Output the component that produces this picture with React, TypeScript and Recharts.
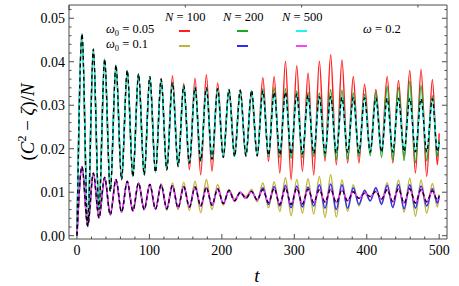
import { LineChart, Line, XAxis, YAxis } from 'recharts'

// C^2 - zeta over N, omega = 0.2. Values read at each peak and trough of the oscillation.

const RED = '#ff1f1f'
const GREEN = '#1fa81f'
const CYAN = '#1ff2f2'
const OLIVE = '#bfb53a'
const BLUE = '#2b2bff'
const MAGENTA = '#ff40ff'
const FRAME = '#4d4d4d'
const SERIF = 'Liberation Serif, Times New Roman, serif'

// times of the peaks / troughs
const T = [
  0,
  7, 14.8, 22.6, 30.4, 38.2, 46, 53.8, 61.6, 69.4, 77.2,
  85, 92.8, 100.6, 108.4, 116.2, 124, 131.8, 139.6, 147.4, 155.2,
  163, 170.8, 178.6, 186.4, 194.2, 202, 209.8, 217.6, 225.4, 233.2,
  241, 248.8, 256.6, 264.4, 272.2, 280, 287.8, 295.6, 303.4, 311.2,
  319, 326.8, 334.6, 342.4, 350.2, 358, 365.8, 373.6, 381.4, 389.2,
  397, 404.8, 412.6, 420.4, 428.2, 436, 443.8, 451.6, 459.4, 467.2,
  475, 482.8, 490.6, 497.5,
  500,
]

// omega0 = 0.05
const up100 = [
  0,
  0.0464, 0.0025, 0.0429, 0.006, 0.0406, 0.0102, 0.0392, 0.0129, 0.038, 0.0136,
  0.0372, 0.014, 0.0366, 0.0146, 0.0362, 0.015, 0.0368, 0.0158, 0.035, 0.0152,
  0.0362, 0.014, 0.037, 0.0148, 0.0351, 0.018, 0.0337, 0.0194, 0.0336, 0.0182,
  0.0324, 0.0182, 0.0364, 0.0171, 0.0366, 0.0144, 0.0401, 0.0129, 0.0391, 0.0148,
  0.0374, 0.014, 0.0401, 0.0171, 0.0416, 0.0163, 0.0404, 0.0167, 0.0366, 0.0167,
  0.0348, 0.019, 0.0336, 0.0194, 0.0366, 0.0167, 0.0357, 0.0182, 0.038, 0.0144,
  0.0382, 0.0136, 0.0359, 0.0163,
  0.0235,
]
const up200 = [
  0,
  0.0464, 0.0025, 0.0429, 0.006, 0.0406, 0.0102, 0.0392, 0.0129, 0.038, 0.0136,
  0.0372, 0.014, 0.0366, 0.0146, 0.036, 0.0152, 0.0352, 0.016, 0.0345, 0.0167,
  0.0341, 0.0172, 0.034, 0.0176, 0.0338, 0.018, 0.0336, 0.0182, 0.0334, 0.0184,
  0.0334, 0.0184, 0.0338, 0.0182, 0.034, 0.018, 0.0338, 0.0178, 0.0333, 0.018,
  0.033, 0.0182, 0.0328, 0.018, 0.0336, 0.0175, 0.0335, 0.0176, 0.0328, 0.0182,
  0.0325, 0.0184, 0.033, 0.018, 0.0343, 0.0174, 0.034, 0.0173, 0.0355, 0.0168,
  0.0345, 0.0172, 0.0322, 0.0182,
  0.022,
]
const up500 = [
  0,
  0.0464, 0.0025, 0.0429, 0.006, 0.0406, 0.0102, 0.0392, 0.0129, 0.038, 0.0136,
  0.0372, 0.014, 0.0366, 0.0146, 0.036, 0.0152, 0.0352, 0.016, 0.0345, 0.0167,
  0.0341, 0.0172, 0.034, 0.0176, 0.0338, 0.018, 0.0336, 0.0182, 0.0334, 0.0184,
  0.0334, 0.0184, 0.0333, 0.0185, 0.033, 0.0186, 0.033, 0.0187, 0.0326, 0.0188,
  0.0323, 0.0189, 0.032, 0.019, 0.032, 0.019, 0.0318, 0.0191, 0.0318, 0.0191,
  0.0317, 0.0192, 0.0317, 0.0192, 0.0316, 0.0192, 0.0316, 0.0193, 0.0316, 0.0193,
  0.0315, 0.0193, 0.0315, 0.0193,
  0.0215,
]
// black dashed reference lies on top of N = 500
const upRef = up500

// omega0 = 0.1
const low100 = [
  0,
  0.0159, 0.0022, 0.0144, 0.0041, 0.0134, 0.0048, 0.0129, 0.0054, 0.0125, 0.0057,
  0.0121, 0.006, 0.0118, 0.0061, 0.012, 0.0058, 0.0121, 0.006, 0.0123, 0.0058,
  0.0125, 0.0053, 0.0129, 0.006, 0.0118, 0.007, 0.0106, 0.0084, 0.0099, 0.009,
  0.0106, 0.0078, 0.0121, 0.0064, 0.0124, 0.0056, 0.0133, 0.0046, 0.0129, 0.0052,
  0.0131, 0.005, 0.0136, 0.0042, 0.014, 0.0043, 0.0128, 0.0056, 0.0117, 0.0068,
  0.0105, 0.008, 0.011, 0.0076, 0.0122, 0.0064, 0.0128, 0.0054, 0.0132, 0.0045,
  0.0128, 0.0052, 0.012, 0.0066,
  0.0095,
]
const low200 = [
  0,
  0.0159, 0.0022, 0.0144, 0.0041, 0.0134, 0.0048, 0.0129, 0.0054, 0.0125, 0.0057,
  0.0121, 0.006, 0.0118, 0.0061, 0.0117, 0.0062, 0.0115, 0.0064, 0.0113, 0.0066,
  0.0112, 0.0068, 0.0111, 0.007, 0.0108, 0.0074, 0.0104, 0.008, 0.01, 0.0086,
  0.0102, 0.0082, 0.011, 0.0072, 0.0113, 0.0068, 0.0116, 0.0064, 0.0114, 0.0066,
  0.0112, 0.0068, 0.0117, 0.0063, 0.0119, 0.006, 0.0117, 0.0063, 0.011, 0.0072,
  0.0104, 0.008, 0.011, 0.0072, 0.0116, 0.0065, 0.0118, 0.0062, 0.0117, 0.0063,
  0.0114, 0.0068, 0.0108, 0.0075,
  0.009,
]
const low500 = [
  0,
  0.0159, 0.0022, 0.0144, 0.0041, 0.0134, 0.0048, 0.0129, 0.0054, 0.0125, 0.0057,
  0.0121, 0.006, 0.0118, 0.0061, 0.0117, 0.0062, 0.0115, 0.0064, 0.0113, 0.0066,
  0.0112, 0.0068, 0.0111, 0.007, 0.0108, 0.0074, 0.0104, 0.008, 0.01, 0.0086,
  0.0102, 0.0082, 0.0106, 0.0076, 0.0109, 0.0072, 0.011, 0.0072, 0.0109, 0.0073,
  0.0107, 0.0076, 0.0106, 0.0077, 0.0107, 0.0076, 0.0105, 0.008, 0.0101, 0.0086,
  0.0098, 0.009, 0.0102, 0.0084, 0.0106, 0.0078, 0.0108, 0.0075, 0.0108, 0.0075,
  0.0106, 0.0078, 0.0103, 0.0082,
  0.0092,
]
const lowRef = low500

const xTicks = [0, 20, 40, 60, 80, 100, 120, 140, 160, 180, 200, 220, 240, 260, 280, 300, 320, 340, 360, 380, 400, 420, 440, 460, 480, 500]
const yTicks = [
  0, 0.002, 0.004, 0.006, 0.008, 0.01, 0.012, 0.014, 0.016, 0.018, 0.02, 0.022, 0.024, 0.026,
  0.028, 0.03, 0.032, 0.034, 0.036, 0.038, 0.04, 0.042, 0.044, 0.046, 0.048, 0.05, 0.052,
]

const data = T.map((t, i) => ({
  t,
  up100: up100[i],
  up200: up200[i],
  up500: up500[i],
  upRef: upRef[i],
  low100: low100[i],
  low200: low200[i],
  low500: low500[i],
  lowRef: lowRef[i],
}))

const isMajorX = (v: number) => v % 100 === 0
const isMajorY = (v: number) => Math.round(v * 1000) % 10 === 0

function BottomTick({ x, y, payload }: any) {
  const major = isMajorX(payload.value)
  return (
    <g>
      <line x1={x} x2={x} y1={y} y2={y - (major ? 5 : 2.5)} stroke={FRAME} />
      {major && (
        <text x={x} y={y + 16} textAnchor="middle" fontSize={14} fontFamily={SERIF} fill="#000">
          {payload.value}
        </text>
      )}
    </g>
  )
}

function TopTick({ x, y, payload }: any) {
  const major = isMajorX(payload.value)
  return <line x1={x} x2={x} y1={y} y2={y + (major ? 5 : 2.5)} stroke={FRAME} />
}

function LeftTick({ x, y, payload }: any) {
  const major = isMajorY(payload.value)
  return (
    <g>
      <line x1={x} x2={x + (major ? 5 : 2.5)} y1={y} y2={y} stroke={FRAME} />
      {major && (
        <text x={x - 4} y={y + 5} textAnchor="end" fontSize={14} fontFamily={SERIF} fill="#000">
          {payload.value.toFixed(2)}
        </text>
      )}
    </g>
  )
}

function RightTick({ x, y, payload }: any) {
  const major = isMajorY(payload.value)
  return <line x1={x} x2={x - (major ? 5 : 2.5)} y1={y} y2={y} stroke={FRAME} />
}

const note = (left: number, top: number): React.CSSProperties => ({
  position: 'absolute',
  left,
  top,
  transform: 'translateY(-50%)',
  fontFamily: SERIF,
  fontSize: 12.5,
  lineHeight: 1,
  whiteSpace: 'nowrap',
  color: '#000',
})

const dash = (left: number, top: number, color: string): React.CSSProperties => ({
  position: 'absolute',
  left,
  top,
  width: 11,
  height: 2,
  background: color,
})

export default function App() {
  const xDomain = [-11, 510.8]
  const yDomain = [-0.00076, 0.05305]
  return (
    <div style={{ position: 'absolute', left: 0, top: 0, width: 459, height: 286 }}>
      <LineChart width={459} height={286} data={data} margin={{ top: 4, right: 11, bottom: 46, left: 68 }}>
        <XAxis
          dataKey="t"
          type="number"
          domain={xDomain}
          allowDataOverflow
          ticks={xTicks}
          interval={0}
          height={1}
          tickSize={0}
          tickMargin={0}
          tickLine={false}
          tick={<BottomTick />}
          axisLine={{ stroke: FRAME }}
        />
        <XAxis
          xAxisId="top"
          orientation="top"
          type="number"
          domain={xDomain}
          allowDataOverflow
          ticks={xTicks}
          interval={0}
          height={1}
          tickSize={0}
          tickMargin={0}
          tickLine={false}
          tick={<TopTick />}
          axisLine={{ stroke: FRAME }}
        />
        <YAxis
          type="number"
          domain={yDomain}
          allowDataOverflow
          ticks={yTicks}
          interval={0}
          width={1}
          tickSize={0}
          tickMargin={0}
          tickLine={false}
          tick={<LeftTick />}
          axisLine={{ stroke: FRAME }}
        />
        <YAxis
          yAxisId="right"
          orientation="right"
          type="number"
          domain={yDomain}
          allowDataOverflow
          ticks={yTicks}
          interval={0}
          width={1}
          tickSize={0}
          tickMargin={0}
          tickLine={false}
          tick={<RightTick />}
          axisLine={{ stroke: FRAME }}
        />
        <Line type="monotone" dataKey="up100" stroke={RED} strokeWidth={1.5} dot={false} isAnimationActive={false} />
        <Line type="monotone" dataKey="low100" stroke={OLIVE} strokeWidth={1.5} dot={false} isAnimationActive={false} />
        <Line type="monotone" dataKey="up200" stroke={GREEN} strokeWidth={1.5} dot={false} isAnimationActive={false} />
        <Line type="monotone" dataKey="low200" stroke={BLUE} strokeWidth={1.5} dot={false} isAnimationActive={false} />
        <Line type="monotone" dataKey="up500" stroke={CYAN} strokeWidth={1.6} dot={false} isAnimationActive={false} />
        <Line type="monotone" dataKey="low500" stroke={MAGENTA} strokeWidth={1.6} dot={false} isAnimationActive={false} />
        <Line type="monotone" dataKey="upRef" stroke="#000" strokeWidth={1.3} strokeDasharray="4 3" dot={false} isAnimationActive={false} />
        <Line type="monotone" dataKey="lowRef" stroke="#000" strokeWidth={1.3} strokeDasharray="4 3" dot={false} isAnimationActive={false} />
      </LineChart>

      {/* in-plot legend */}
      <div style={note(165, 17)}><i>N</i> = 100</div>
      <div style={note(223, 17)}><i>N</i> = 200</div>
      <div style={note(282, 17)}><i>N</i> = 500</div>
      <div style={note(106, 30)}><i>ω</i><sub style={{ fontSize: 8.5, verticalAlign: -3 }}>0</sub> = 0.05</div>
      <div style={note(106, 45)}><i>ω</i><sub style={{ fontSize: 8.5, verticalAlign: -3 }}>0</sub> = 0.1</div>
      <div style={note(363, 28.5)}><i>ω</i> = 0.2</div>
      <div style={dash(179, 30, RED)} />
      <div style={dash(179, 45, OLIVE)} />
      <div style={dash(237, 30, GREEN)} />
      <div style={dash(237, 45, BLUE)} />
      <div style={dash(296, 30, CYAN)} />
      <div style={dash(296, 45, MAGENTA)} />

      {/* axis titles */}
      <div
        style={{
          position: 'absolute',
          left: 26,
          top: 122,
          transform: 'translate(-50%, -50%) rotate(-90deg)',
          fontFamily: SERIF,
          fontSize: 19,
          lineHeight: 1,
          whiteSpace: 'nowrap',
        }}
      >
        (<i>C</i>
        <span style={{ fontSize: 12, verticalAlign: 8 }}>2</span> − <i>ζ</i>)/<i>N</i>
      </div>
      <div
        style={{
          position: 'absolute',
          left: 257,
          top: 275,
          transform: 'translate(-50%, -50%)',
          fontFamily: SERIF,
          fontSize: 19,
          fontStyle: 'italic',
          lineHeight: 1,
        }}
      >
        t
      </div>
    </div>
  )
}
